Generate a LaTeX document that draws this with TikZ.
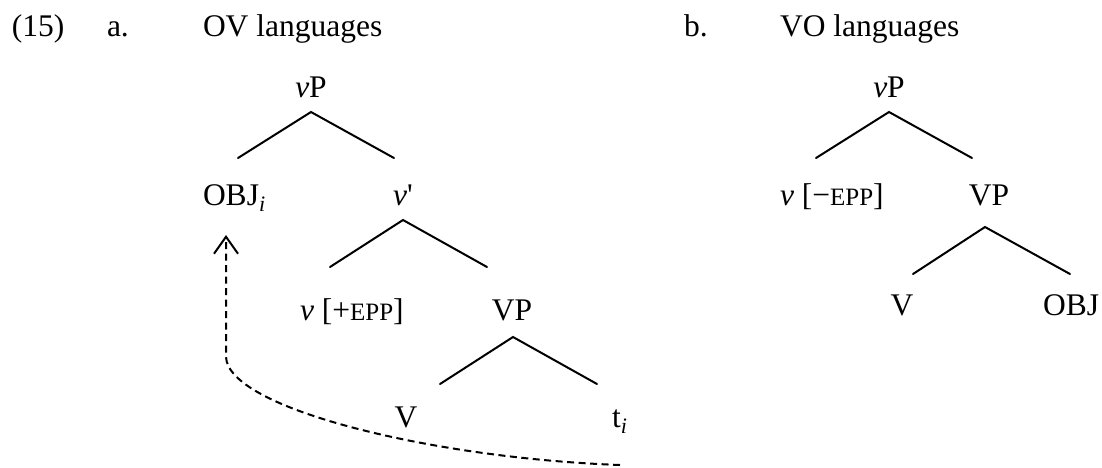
\documentclass[tikz,border=0pt]{standalone}
\usepackage{fontspec}
\setmainfont{Liberation Serif}
\usetikzlibrary{calc,arrows.meta}
\newcommand{\smallcapsize}[1]{{\fontsize{25}{30}\selectfont #1}}
\tikzset{
  lbl/.style={font=\fontsize{31.5}{38}\selectfont, inner sep=0pt, outer sep=0pt},
  branch/.style={line width=2pt, line cap=round, line join=miter},
  movearrow/.style={line width=2pt, dash pattern=on 7pt off 4.5pt,
    -{Straight Barb[length=17pt,width=24pt,line width=2pt]}}
}
\begin{document}
\begin{tikzpicture}[x=1pt,y=-1pt]
\useasboundingbox (0,0) rectangle (1102,467);
% header
\node[lbl,anchor=base west] (num) at (12,36) {(15)};
\node[lbl,anchor=base west] (la) at (107,36) {a.};
\node[lbl,anchor=base west] (ta) at (203,36) {OV languages};
\node[lbl,anchor=base west] (lb) at (684,36) {b.};
\node[lbl,anchor=base west] (tb) at (780,36) {VO languages};
% tree a
\node[lbl,anchor=base] (vPa) at (311,97) {\textit{v}P};
\node[lbl,anchor=base west] (obj) at (203,205) {OBJ\textsubscript{\textit{i}}};
\node[lbl,anchor=base] (vbar) at (403,205) {\textit{v}\textquotesingle};
\node[lbl,anchor=base west] (va) at (300,320) {\textit{v} [+\smallcapsize{EPP}]};
\node[lbl,anchor=base] (VPa) at (512,320) {VP};
\node[lbl,anchor=base] (Va) at (406,427) {V};
\node[lbl,anchor=base west] (ti) at (612,427) {t\textsubscript{\textit{i}}};
\draw[branch] ($(vPa.base)+(-73,61)$) -- ($(vPa.base)+(0,15)$) -- ($(vPa.base)+(83,61)$);
\draw[branch] ($(vbar.base)+(-73,62)$) -- ($(vbar.base)+(0,15)$) -- ($(vbar.base)+(84,62)$);
\draw[branch] ($(VPa.base)+(-72,64)$) -- ($(VPa.base)+(1,17)$) -- ($(VPa.base)+(85,64)$);
\draw[movearrow] ($(ti.base west)+(8,38)$) .. controls (430,458) and (228,408) .. ($(obj.base west)+(23,152)$) -- ($(obj.base west)+(23,30)$);
% tree b
\node[lbl,anchor=base] (vPb) at (889,97) {\textit{v}P};
\node[lbl,anchor=base west] (vb) at (780,205) {\textit{v} [\textminus\smallcapsize{EPP}]};
\node[lbl,anchor=base] (VPb) at (989,205) {VP};
\node[lbl,anchor=base] (Vb) at (902,315) {V};
\node[lbl,anchor=base west] (objb) at (1043,315) {OBJ};
\draw[branch] ($(vPb.base)+(-73,61)$) -- ($(vPb.base)+(0,15)$) -- ($(vPb.base)+(83,61)$);
\draw[branch] ($(VPb.base)+(-76,69)$) -- ($(VPb.base)+(-4,22)$) -- ($(VPb.base)+(81,69)$);
\end{tikzpicture}
\end{document}
